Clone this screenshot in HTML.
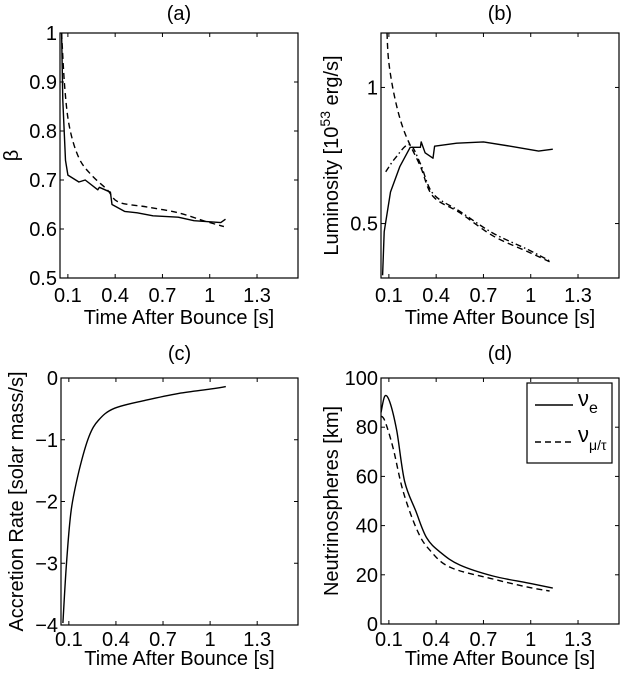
<!DOCTYPE html>
<html><head><meta charset="utf-8"><style>
html,body{margin:0;padding:0;background:#fff;}
svg{display:block;font-family:"Liberation Sans",Arial,sans-serif;}
</style></head><body>
<svg id="fig" width="620" height="674" viewBox="0 0 620 674"></svg>
<script>
// Panel (a) data: beta
const aSolidT=[0.06,0.068,0.085,0.1,0.17,0.21,0.29,0.30,0.37,0.38,0.46,0.54,0.64,0.8,0.9,1.07,1.1];
const aSolidV=[1.0,0.863,0.74,0.71,0.696,0.70,0.68,0.685,0.675,0.65,0.636,0.633,0.627,0.624,0.617,0.613,0.62];
const aDashT=[0.06,0.08,0.11,0.17,0.25,0.35,0.42,0.6,0.8,0.98,1.09];
const aDashV=[1.0,0.89,0.808,0.745,0.71,0.68,0.655,0.645,0.633,0.615,0.605];
// Panel (b) data: luminosity
const bSolidT=[0.06,0.07,0.11,0.17,0.235,0.3,0.305,0.33,0.38,0.39,0.53,0.7,0.87,1.05,1.14];
const bSolidV=[0.31,0.47,0.616,0.71,0.78,0.78,0.8,0.76,0.74,0.784,0.795,0.80,0.784,0.766,0.773];
const bDashT=[0.088,0.1,0.14,0.2,0.3,0.38,0.55,0.76,0.98,1.12];
const bDashV=[1.2,1.09,0.955,0.835,0.71,0.6,0.54,0.455,0.397,0.36];
const bDotT=[0.08,0.14,0.23,0.3,0.38,0.55,0.76,0.98,1.12];
const bDotV=[0.69,0.74,0.79,0.72,0.61,0.545,0.465,0.405,0.363];
// Panel (c) data: accretion rate
const cT=[0.062,0.085,0.115,0.166,0.228,0.29,0.39,0.59,0.8,1.0,1.1];
const cV=[-3.97,-3.0,-2.14,-1.49,-0.95,-0.68,-0.49,-0.36,-0.25,-0.18,-0.14];
// Panel (d) data: neutrinospheres
const dSolidT=[0.05,0.075,0.107,0.15,0.2,0.27,0.34,0.43,0.55,0.76,0.98,1.14];
const dSolidV=[86,92.7,90,78.5,58,46,35,29,24,19.5,16.7,14.6];
const dDashT=[0.05,0.075,0.127,0.19,0.28,0.36,0.49,0.76,0.98,1.12];
const dDashV=[84.5,82.5,71.5,54,38,30,23,18.3,15,13.4];
// ticks
const xTicks=[0.1,0.4,0.7,1,1.3];
const xTickLabels=["0.1","0.4","0.7","1","1.3"];
const aYTicks=[0.5,0.6,0.7,0.8,0.9,1];
const aYLabels=["0.5","0.6","0.7","0.8","0.9","1"];
const bYTicks=[0.5,1];
const bYLabels=["0.5","1"];
const cYTicks=[-4,-3,-2,-1,0];
const cYLabels=["\u22124","\u22123","\u22122","\u22121","0"];
const dYTicks=[0,20,40,60,80,100];
const dYLabels=["0","20","40","60","80","100"];

const NS="http://www.w3.org/2000/svg";
const svg=document.getElementById('fig');
function mk(tag,attrs,parent){const e=document.createElementNS(NS,tag);for(const k in attrs)e.setAttribute(k,attrs[k]);(parent||svg).appendChild(e);return e;}
const FS=20;

function panel(name,box,ydom,yt,yl,title,ylabel,tickBase,xlabBase,titleBase,ylabX){
  const g=mk('g',{});
  
  
  const X0=0.05,X1=1.56;
  const sx=t=>box.l+(t-X0)/(X1-X0)*(box.r-box.l);
  const sy=v=>box.b-(v-ydom[0])/(ydom[1]-ydom[0])*(box.b-box.t);
  const r=mk('rect',{x:box.l,y:box.t,width:box.r-box.l,height:box.b-box.t,fill:'none',stroke:'#000','stroke-width':1.2},g);
  
  
  xTicks.forEach((t,i)=>{
    const x=sx(t);
    mk('line',{x1:x,x2:x,y1:box.b,y2:box.b-4,stroke:'#000'},g);
    mk('line',{x1:x,x2:x,y1:box.t,y2:box.t+4,stroke:'#000'},g);
    const tx=mk('text',{x:x,y:tickBase,'font-size':FS,'text-anchor':'middle'},g);
    tx.textContent=xTickLabels[i];
    
    
  });
  yt.forEach((v,i)=>{
    const y=sy(v);
    mk('line',{x1:box.l,x2:box.l+4,y1:y,y2:y,stroke:'#000'},g);
    mk('line',{x1:box.r,x2:box.r-4,y1:y,y2:y,stroke:'#000'},g);
    const tx=mk('text',{x:box.l-3,y:y+7,'font-size':FS,'text-anchor':'end'},g);
    tx.textContent=yl[i];
    
    
  });
  const xl=mk('text',{x:(box.l+box.r)/2,y:xlabBase,'font-size':FS,'text-anchor':'middle'},g);
  xl.textContent='Time After Bounce [s]';
  
  
  const tt=mk('text',{x:(box.l+box.r)/2,y:titleBase,'font-size':FS,'text-anchor':'middle'},g);
  tt.textContent=title;
  
  
  const cy=(box.t+box.b)/2;
  const yl2=mk('text',{x:ylabX,y:cy,'font-size':FS,'text-anchor':'middle',transform:`rotate(-90 ${ylabX} ${cy})`},g);
  if(typeof ylabel==='string'){yl2.textContent=ylabel;}
  else{ylabel(yl2);}
  
  
  return {g,sx,sy};
}
function series(p,T,V,dash,name,smooth){
  const P=T.map((t,i)=>[p.sx(t),p.sy(V[i])]);
  let d='M'+P[0][0].toFixed(1)+','+P[0][1].toFixed(1);
  for(let i=1;i<P.length;i++){
    if(smooth){
      const p0=P[Math.max(0,i-2)],p1=P[i-1],p2=P[i],p3=P[Math.min(P.length-1,i+1)];
      const c1=[p1[0]+(p2[0]-p0[0])/6,p1[1]+(p2[1]-p0[1])/6];
      const c2=[p2[0]-(p3[0]-p1[0])/6,p2[1]-(p3[1]-p1[1])/6];
      d+=` C${c1[0].toFixed(1)},${c1[1].toFixed(1)} ${c2[0].toFixed(1)},${c2[1].toFixed(1)} ${p2[0].toFixed(1)},${p2[1].toFixed(1)}`;
    } else d+=' L'+P[i][0].toFixed(1)+','+P[i][1].toFixed(1);
  }
  const pa=mk('path',{d:d,fill:'none',stroke:'#000','stroke-width':1.4,'stroke-dasharray':dash||'none','stroke-linejoin':'round'},p.g);
  
  
}

const pa=panel('panel-a-beta',{l:60,r:298,t:33,b:278},[0.5,1],aYTicks,aYLabels,'(a)','\u03b2',302,324,20,18);
series(pa,aSolidT,aSolidV,null,'beta-solid-line',false);
series(pa,aDashT,aDashV,'6,4','beta-dashed-line',true);

const pb=panel('panel-b-luminosity',{l:381,r:619,t:33,b:278},[0.3,1.2],bYTicks,bYLabels,'(b)',function(el){
  el.appendChild(document.createTextNode('Luminosity [10'));
  const s=document.createElementNS(NS,'tspan');s.setAttribute('dy','-8');s.setAttribute('font-size','14');s.textContent='53';el.appendChild(s);
  const s2=document.createElementNS(NS,'tspan');s2.setAttribute('dy','8');s2.textContent=' erg/s]';el.appendChild(s2);
},302,324,20,338);
series(pb,bSolidT,bSolidV,null,'luminosity-solid-line',false);
series(pb,bDashT,bDashV,'6,4','luminosity-dashed-line',true);
series(pb,bDotT,bDotV,'6,3,1.5,3','luminosity-dashdot-line',true);

const pc=panel('panel-c-accretion',{l:61,r:298,t:378,b:625},[-4,0],cYTicks,cYLabels,'(c)','Accretion Rate [solar mass/s]',646,665,360,23);
series(pc,cT,cV,null,'accretion-rate-line',true);

const pd=panel('panel-d-neutrinospheres',{l:381,r:619,t:378,b:624},[0,100],dYTicks,dYLabels,'(d)','Neutrinospheres [km]',646,665,360,338);
series(pd,dSolidT,dSolidV,null,'nu-e-line',true);
series(pd,dDashT,dDashV,'6,4','nu-mu-tau-line',true);

// legend
const lg=mk('g',{});


mk('rect',{x:527,y:383,width:85,height:80,fill:'#fff',stroke:'#000','stroke-width':1.2},lg);
mk('line',{x1:535,x2:573,y1:405,y2:405,stroke:'#000','stroke-width':1.4},lg);
const t1=mk('text',{x:578,y:406,'font-size':22},lg);
t1.textContent='\u03bd';
const t1s=document.createElementNS(NS,'tspan');t1s.setAttribute('dy','7');t1s.setAttribute('font-size','16');t1s.textContent='e';t1.appendChild(t1s);


mk('line',{x1:535,x2:573,y1:442,y2:442,stroke:'#000','stroke-width':1.4,'stroke-dasharray':'6,4'},lg);
const t2=mk('text',{x:578,y:442,'font-size':22},lg);
t2.textContent='\u03bd';
const t2s=document.createElementNS(NS,'tspan');t2s.setAttribute('dy','8');t2s.setAttribute('font-size','14');t2s.textContent='\u03bc/\u03c4';t2.appendChild(t2s);


</script>
</body></html>
